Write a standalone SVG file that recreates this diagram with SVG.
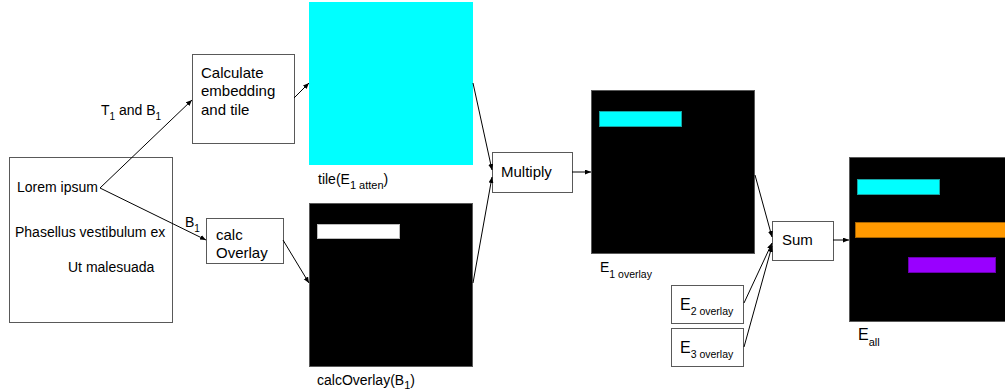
<svg xmlns="http://www.w3.org/2000/svg" width="1005" height="391" viewBox="0 0 1005 391">
<defs>
<style>
.box{fill:#fff;stroke:#595959;stroke-width:1}
.img{stroke:#595959;stroke-width:1}
.t{font-family:"Liberation Sans",Arial,sans-serif;fill:#000}
.conn line{stroke:#000;stroke-width:1;marker-end:url(#ah)}
</style>
<marker id="ah" markerUnits="userSpaceOnUse" markerWidth="7" markerHeight="6" refX="6" refY="2.5" orient="auto">
<path d="M0,0 L6,2.5 L0,5 z" fill="#000"/>
</marker>
</defs>
<rect width="1005" height="391" fill="#fff"/>

<g id="input">
<rect class="box" x="9.5" y="157.5" width="163" height="165"/>
<text class="t" x="17" y="192" font-size="14">Lorem ipsum</text>
<text class="t" x="15" y="237" font-size="14">Phasellus vestibulum ex</text>
<text class="t" x="68" y="272" font-size="14">Ut malesuada</text>
</g>

<g id="calc-embed">
<rect class="box" x="192.5" y="54.5" width="102" height="89"/>
<text class="t" font-size="15"><tspan x="201" y="78">Calculate</tspan><tspan x="201" y="96">embedding</tspan><tspan x="201" y="115">and tile</tspan></text>
</g>

<g id="calc-overlay">
<rect class="box" x="206.5" y="218.5" width="77" height="45"/>
<text class="t" font-size="15"><tspan x="216" y="240">calc</tspan><tspan x="216" y="258">Overlay</tspan></text>
</g>

<g id="tile-img">
<rect x="309" y="2" width="164" height="163" fill="#00ffff"/>
<text class="t" x="318" y="184" font-size="14">tile(E<tspan font-size="11" dy="5">1 atten</tspan><tspan dy="-5">)</tspan></text>
</g>

<g id="overlay-img">
<rect class="img" x="309.5" y="203.5" width="163" height="163" fill="#000"/>
<rect x="317.5" y="224.5" width="82" height="14" fill="#fff" stroke="#bbb"/>
<text class="t" x="317" y="385" font-size="14">calcOverlay(B<tspan font-size="11" dy="4">1</tspan><tspan dy="-4">)</tspan></text>
</g>

<g id="multiply">
<rect class="box" x="492.5" y="152.5" width="80" height="40"/>
<text class="t" x="501" y="177" font-size="15">Multiply</text>
</g>

<g id="e1-overlay">
<rect class="img" x="591.5" y="90.5" width="163" height="163" fill="#000"/>
<rect x="599.5" y="111.5" width="82" height="15" fill="#00ffff" stroke="#17a3a3"/>
<text class="t" x="600" y="272" font-size="14">E<tspan font-size="10.5" dy="6">1 overlay</tspan></text>
</g>

<g id="e2-overlay">
<rect class="box" x="671.5" y="285.5" width="72" height="38"/>
<text class="t" x="680" y="310" font-size="16">E<tspan font-size="10.5" dy="5">2 overlay</tspan></text>
</g>

<g id="e3-overlay">
<rect class="box" x="671.5" y="328.5" width="72" height="38"/>
<text class="t" x="680" y="353" font-size="16">E<tspan font-size="10.5" dy="5">3 overlay</tspan></text>
</g>

<g id="sum">
<rect class="box" x="772.5" y="221.5" width="61" height="39"/>
<text class="t" x="782" y="245" font-size="15">Sum</text>
</g>

<g id="e-all">
<rect class="img" x="849.5" y="157.5" width="164" height="164" fill="#000"/>
<rect x="857.5" y="179.5" width="82" height="15" fill="#00ffff" stroke="#17a3a3"/>
<rect x="855.5" y="222.5" width="160" height="15" fill="#ff9900" stroke="#a86500"/>
<rect x="908.5" y="257.5" width="87" height="15" fill="#9900ff" stroke="#6a00b0"/>
<text class="t" x="858" y="340" font-size="16">E<tspan font-size="11" dy="6">all</tspan></text>
</g>

<g id="labels">
<text class="t" x="101" y="115" font-size="14">T<tspan font-size="10" dy="5">1</tspan><tspan dy="-5"> and B</tspan><tspan font-size="10" dy="5">1</tspan></text>
<text class="t" x="185" y="227" font-size="14">B<tspan font-size="10" dy="5">1</tspan></text>
</g>

<g id="connectors" class="conn">
<line x1="100" y1="188" x2="192" y2="100"/>
<line x1="100" y1="188" x2="206" y2="240"/>
<line x1="294" y1="98" x2="309" y2="83"/>
<line x1="283" y1="240" x2="309" y2="283"/>
<line x1="473" y1="83" x2="492" y2="170"/>
<line x1="473" y1="283" x2="492" y2="177"/>
<line x1="572" y1="172" x2="591" y2="172"/>
<line x1="755" y1="175" x2="772" y2="237"/>
<line x1="744" y1="303" x2="772" y2="243"/>
<line x1="744" y1="347" x2="772" y2="246"/>
<line x1="833" y1="240" x2="849" y2="240"/>
</g>
</svg>
